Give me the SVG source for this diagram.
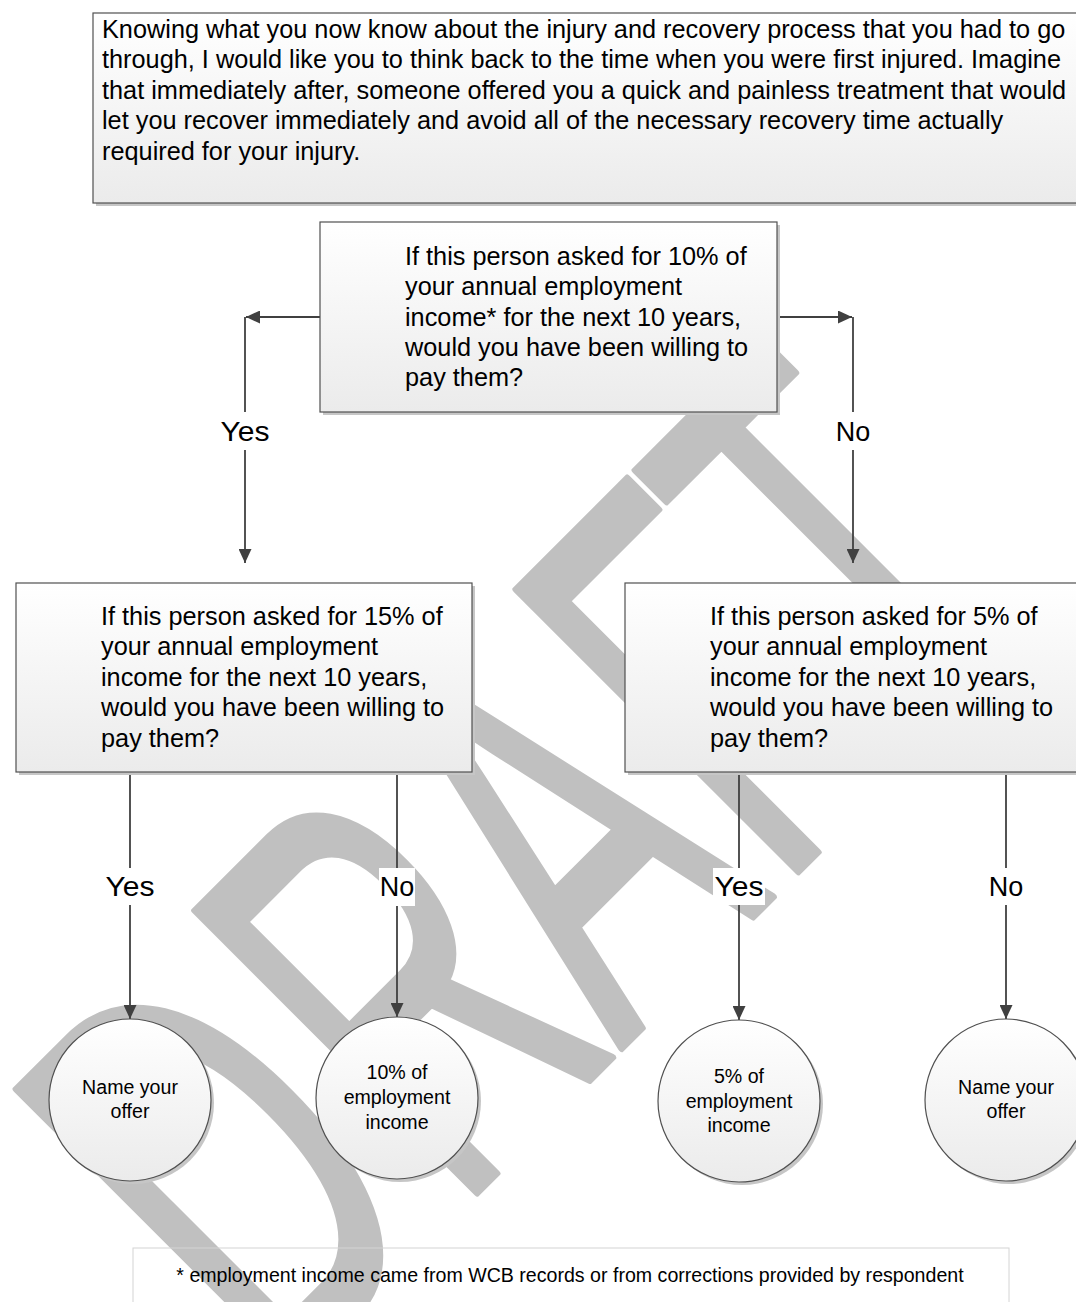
<svg xmlns="http://www.w3.org/2000/svg" width="1076" height="1302" viewBox="0 0 1076 1302">
<defs>
<linearGradient id="boxFill" x1="0" y1="0" x2="0" y2="1">
<stop offset="0" stop-color="#ffffff"/>
<stop offset="1" stop-color="#ebebeb"/>
</linearGradient>
<marker id="arrow" markerUnits="userSpaceOnUse" markerWidth="15" markerHeight="13" refX="14" refY="6.5" orient="auto">
<path d="M0,0 L14,6.5 L0,13 Z" fill="#404040"/>
</marker>
<style>
.box{fill:url(#boxFill);stroke:#505050;stroke-width:1.2}
.shadow{fill:#c6c6c6}
.q{font-family:"Liberation Sans",Arial,sans-serif;font-size:25.3px;fill:#000}
.lab{font-family:"Liberation Sans",Arial,sans-serif;font-size:27px;fill:#000;text-anchor:middle}
.ct{font-family:"Liberation Sans",Arial,sans-serif;font-size:19.6px;fill:#000;text-anchor:middle}
.conn{stroke:#404040;stroke-width:1.8;fill:none}
.bg{fill:#ffffff}
</style>
</defs>
<rect width="1076" height="1302" fill="#ffffff"/>
<g id="watermark" fill="#c0c0c0" stroke="#c0c0c0" stroke-width="1.2" stroke-linejoin="round">
<text transform="rotate(-45) scale(3.275,5.8)" x="-240.3" y="203.6" font-family="Liberation Sans, Arial, sans-serif" font-size="100">D<tspan dx="4.9">R</tspan><tspan dx="-1.8">A</tspan><tspan dx="1.6">F</tspan><tspan dx="-3.7">T</tspan></text>
</g>
<g id="connectors">
<path class="conn" d="M320,317 H246" marker-end="url(#arrow)"/>
<path class="conn" d="M245,317 V563" marker-end="url(#arrow)"/>
<path class="conn" d="M777,317 H852" marker-end="url(#arrow)"/>
<path class="conn" d="M853,317 V563" marker-end="url(#arrow)"/>
<path class="conn" d="M130,772 V1019" marker-end="url(#arrow)"/>
<path class="conn" d="M397,772 V1017" marker-end="url(#arrow)"/>
<path class="conn" d="M739,772 V1020" marker-end="url(#arrow)"/>
<path class="conn" d="M1006,772 V1019" marker-end="url(#arrow)"/>
<g id="labels">
<rect class="bg" x="219" y="412" width="52" height="38"/>
<text class="lab" x="245" y="441" textLength="49" lengthAdjust="spacingAndGlyphs">Yes</text>
<rect class="bg" x="835" y="412" width="36" height="38"/>
<text class="lab" x="853" y="441">No</text>
<rect class="bg" x="104" y="868" width="52" height="37"/>
<text class="lab" x="130" y="896" textLength="49" lengthAdjust="spacingAndGlyphs">Yes</text>
<rect class="bg" x="379" y="868" width="36" height="38"/>
<text class="lab" x="397" y="896">No</text>
<rect class="bg" x="713" y="868" width="52" height="37"/>
<text class="lab" x="739" y="896" textLength="49" lengthAdjust="spacingAndGlyphs">Yes</text>
<rect class="bg" x="988" y="868" width="36" height="37"/>
<text class="lab" x="1006" y="896">No</text>
</g>
</g>
<g id="intro">
<rect class="shadow" x="96" y="16" width="1000" height="190"/>
<rect class="box" x="93" y="13" width="1000" height="190"/>
<text class="q" x="102" y="38">Knowing what you now know about the injury and recovery process that you had to go</text>
<text class="q" x="102" y="68.4">through, I would like you to think back to the time when you were first injured. Imagine</text>
<text class="q" x="102" y="98.8">that immediately after, someone offered you a quick and painless treatment that would</text>
<text class="q" x="102" y="129.2">let you recover immediately and avoid all of the necessary recovery time actually</text>
<text class="q" x="102" y="159.6">required for your injury.</text>
</g>
<g id="q10">
<rect class="shadow" x="323" y="225" width="457" height="190"/>
<rect class="box" x="320" y="222" width="457" height="190"/>
<text class="q" x="405" y="264.8">If this person asked for 10% of</text>
<text class="q" x="405" y="295.2">your annual employment</text>
<text class="q" x="405" y="325.6">income* for the next 10 years,</text>
<text class="q" x="405" y="356">would you have been willing to</text>
<text class="q" x="405" y="386.4">pay them?</text>
</g>
<g id="q15">
<rect class="shadow" x="19" y="586" width="456" height="189"/>
<rect class="box" x="16" y="583" width="456" height="189"/>
<text class="q" x="101" y="625">If this person asked for 15% of</text>
<text class="q" x="101" y="655.4">your annual employment</text>
<text class="q" x="101" y="685.8">income for the next 10 years,</text>
<text class="q" x="101" y="716.2">would you have been willing to</text>
<text class="q" x="101" y="746.6">pay them?</text>
</g>
<g id="q5">
<rect class="shadow" x="628" y="586" width="460" height="189"/>
<rect class="box" x="625" y="583" width="460" height="189"/>
<text class="q" x="710" y="625">If this person asked for 5% of</text>
<text class="q" x="710" y="655.4">your annual employment</text>
<text class="q" x="710" y="685.8">income for the next 10 years,</text>
<text class="q" x="710" y="716.2">would you have been willing to</text>
<text class="q" x="710" y="746.6">pay them?</text>
</g>
<g id="o1">
<circle class="shadow" cx="133" cy="1103" r="81"/>
<circle class="box" cx="130" cy="1100" r="81"/>
<text class="ct" x="130" y="1094">Name your</text>
<text class="ct" x="130" y="1118">offer</text>
</g>
<g id="o2">
<circle class="shadow" cx="400" cy="1101" r="81"/>
<circle class="box" cx="397" cy="1098" r="81"/>
<text class="ct" x="397" y="1079">10% of</text>
<text class="ct" x="397" y="1104">employment</text>
<text class="ct" x="397" y="1129">income</text>
</g>
<g id="o3">
<circle class="shadow" cx="742" cy="1104" r="81"/>
<circle class="box" cx="739" cy="1101" r="81"/>
<text class="ct" x="739" y="1083">5% of</text>
<text class="ct" x="739" y="1108">employment</text>
<text class="ct" x="739" y="1132">income</text>
</g>
<g id="o4">
<circle class="shadow" cx="1009" cy="1103" r="81"/>
<circle class="box" cx="1006" cy="1100" r="81"/>
<text class="ct" x="1006" y="1094">Name your</text>
<text class="ct" x="1006" y="1118">offer</text>
</g>
<g id="footnote">
<rect x="133" y="1248" width="876" height="62" fill="none" stroke="#d4d4d4" stroke-width="1"/>
<text class="ct" x="570" y="1282">* employment income came from WCB records or from corrections provided by respondent</text>
</g>
</svg>
